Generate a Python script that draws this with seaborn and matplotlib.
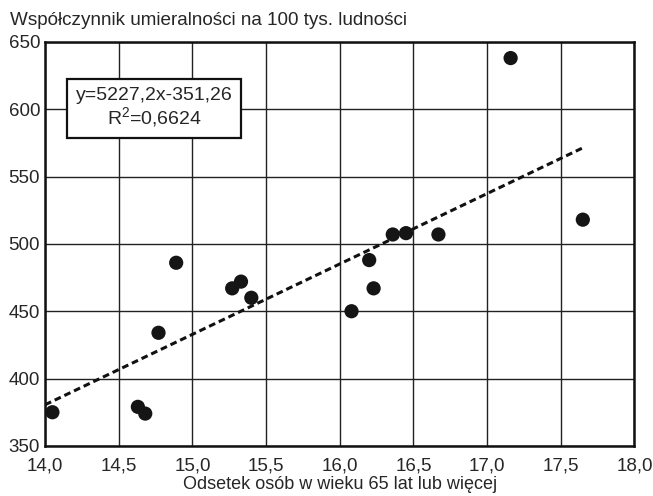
import matplotlib
matplotlib.use("Agg")
import matplotlib.pyplot as plt
import seaborn as sns
import numpy as np
import pandas as pd

# Data
share_65plus = [14.05, 14.63, 14.68, 14.77, 14.89, 15.27, 15.33, 15.40,
                16.08, 16.20, 16.23, 16.36, 16.45, 16.67, 17.16, 17.65]
mortality = [375, 379, 374, 434, 486, 467, 472, 460,
             450, 488, 467, 507, 508, 507, 638, 518]
slope_coef = 5227.2      # per fraction (x/100)
intercept_coef = -351.26
r2_value = "0,6624"
x_ticks = [14.0, 14.5, 15.0, 15.5, 16.0, 16.5, 17.0, 17.5, 18.0]
y_ticks = [350, 400, 450, 500, 550, 600, 650]

df = pd.DataFrame({"x": share_65plus, "y": mortality})

sns.set_style("white")
plt.rcParams["font.family"] = ["Liberation Sans", "DejaVu Sans"]

fig = plt.figure(figsize=(6.53, 4.96), dpi=100)
ax = fig.add_axes([0.069, 0.101, 0.9025, 0.8145])

# trend line
xl = np.array([14.0, max(share_65plus)])
yl = slope_coef * xl / 100 + intercept_coef
ax.plot(xl, yl, color="#111111", lw=2.2, ls=(0, (2.2, 1.3)), zorder=3)

sns.scatterplot(data=df, x="x", y="y", ax=ax, s=105, color="#151515",
                edgecolor="none", zorder=4, clip_on=False)

ax.set_xlim(14.0, 18.0)
ax.set_ylim(350, 650)
ax.set_xticks(x_ticks)
ax.set_yticks(y_ticks)
ax.set_xticklabels([f"{v:.1f}".replace(".", ",") for v in x_ticks], fontsize=13.5)
ax.set_yticklabels([str(v) for v in y_ticks], fontsize=13.5)
ax.tick_params(axis="x", length=0, pad=8)
ax.tick_params(axis="y", length=0, pad=3.5)
ax.grid(True, color="#222222", lw=1.0)
ax.set_axisbelow(True)
for sp in ax.spines.values():
    sp.set_color("#111111")
    sp.set_linewidth(1.8)

ax.set_xlabel("Odsetek osób w wieku 65 lat lub więcej", fontsize=13, labelpad=1.5)
ax.set_ylabel("")
fig.text(0.015, 0.976, "Współczynnik umieralności na 100 tys. ludności",
         fontsize=13.6, ha="left", va="top")

eq = f"y={str(slope_coef).replace('.', ',')}x{str(intercept_coef).replace('.', ',')}\n$\\mathregular{{R^2}}$={r2_value}"
ax.text(14.74, 601, eq, fontsize=14, ha="center", va="center", zorder=5,
        linespacing=1.1,
        bbox=dict(boxstyle="square,pad=0.45", fc="white", ec="#111111", lw=1.6))

fig.savefig("out.png", dpi=100)
